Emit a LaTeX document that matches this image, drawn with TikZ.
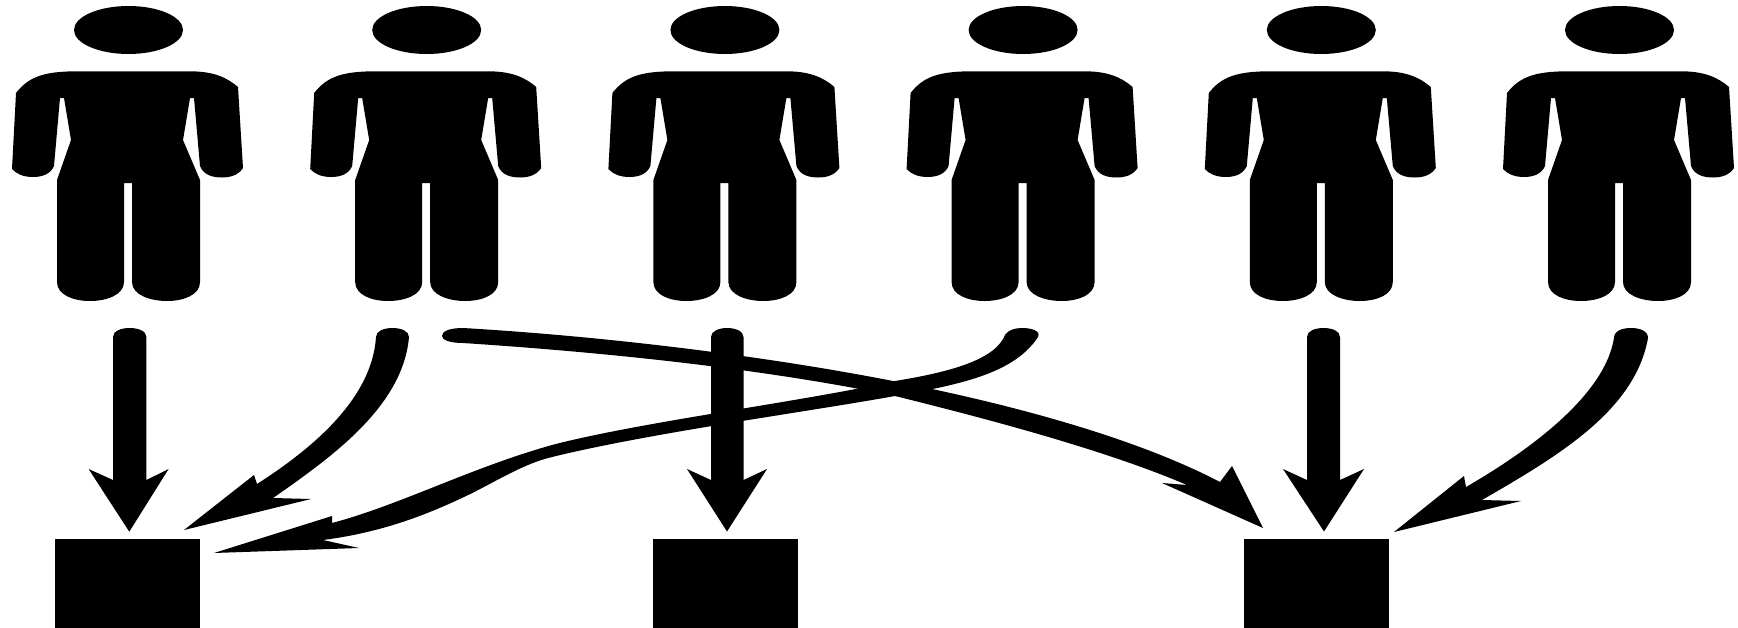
\documentclass[tikz,border=0pt]{standalone}
\tikzset{
  ink/.style={fill=black,draw=none},
  binbox/.style={rectangle,fill=black,draw=none,inner sep=0pt,minimum width=145pt,minimum height=89pt},
  person/.pic={
    \fill[ink] (0,0) ellipse [x radius=54.5,y radius=24];
    \fill[ink] (-51,41.3) -- (61.5,41.3)
      .. controls (84,41.3) and (98,47) .. (109.5,57)
      -- (114.5,138)
      .. controls (110,145) and (102,147.5) .. (93.5,147.5)
      .. controls (84,147.5) and (75,145) .. (71.5,136)
      -- (65.5,68) -- (61.5,68) -- (54.5,110) -- (71.5,150)
      -- (71.5,252)
      .. controls (71.5,265) and (55,271) .. (38.5,271)
      .. controls (22,271) and (3.5,265) .. (3.5,252)
      -- (3.5,153) -- (-4.5,153) -- (-4.5,252)
      .. controls (-4.5,265) and (-22,271) .. (-38.5,271)
      .. controls (-55,271) and (-71.5,265) .. (-71.5,252)
      -- (-71.5,150) -- (-57.5,110) -- (-64.5,68) -- (-68.5,68) -- (-74.5,136)
      .. controls (-78,144) and (-86,147) .. (-95.5,147)
      .. controls (-105,147) and (-112,144) .. (-116.5,139)
      -- (-112.5,63)
      .. controls (-100,47) and (-85,41.3) .. (-51,41.3) -- cycle;
  }
}
\begin{document}
\begin{tikzpicture}[x=1pt,y=-1pt]
\useasboundingbox (0,0) rectangle (1738,627);
% people
\pic (p1) at (128.5,30) {person};
\pic (p2) at (426.7,30) {person};
\pic (p3) at (724.9,30) {person};
\pic (p4) at (1023.1,30) {person};
\pic (p5) at (1321.3,30) {person};
\pic (p6) at (1619.5,30) {person};
% bins
\node[binbox] (b1) at (127.8,583) {};
\node[binbox] (b2) at (725.2,583) {};
\node[binbox] (b3) at (1316.2,583) {};
% connector ends
\coordinate (s1) at (129.7,328);
\coordinate (t1) at (129.3,531.7);
\coordinate (s2) at (392.5,328);
\coordinate (t2) at (184,530);
\coordinate (s3) at (463,328);
\coordinate (t3) at (1263,528);
\coordinate (s4) at (727.2,328);
\coordinate (t4) at (727,531.5);
\coordinate (s5) at (1022,328);
\coordinate (t5) at (214,553);
\coordinate (s6) at (1323.5,328);
\coordinate (t6) at (1324,531.5);
\coordinate (s7) at (1631,328);
\coordinate (t7) at (1394,532);
% straight arrows
\fill[ink] (113,337) .. controls (113,331) and (121,328) .. (s1) .. controls (138,328) and (146.4,331) .. (146.4,337)
  -- (146.4,480) -- (168.6,469) -- (t1) -- (88.6,469) -- (113,480) -- cycle;
\fill[ink] (711,337) .. controls (711,331) and (719,328) .. (s4) .. controls (735,328) and (743.5,331) .. (743.5,337)
  -- (743.5,480) -- (767,469) -- (t4) -- (687,469) -- (711,480) -- cycle;
\fill[ink] (1307,337) .. controls (1307,331) and (1315,328) .. (s6) .. controls (1332,328) and (1340,331) .. (1340,337)
  -- (1340,480) -- (1364,469) -- (t6) -- (1283,469) -- (1307,480) -- cycle;
% curved arrow 2 -> bin 1
\fill[ink] (376,337) .. controls (376,331) and (384,328) .. (s2) .. controls (401,328) and (409,331) .. (409,337)
  .. controls (403,405) and (335,455) .. (273,498)
  -- (311,499) -- (t2) -- (254,475) -- (257,484)
  .. controls (310,450) and (372,400) .. (376,337) -- cycle;
% curved arrow 6 -> bin 3
\fill[ink] (1614,338) .. controls (1614,331) and (1622,328) .. (s7) .. controls (1640,328) and (1648,331) .. (1648,338)
  .. controls (1635,410) and (1560,455) .. (1482,500)
  -- (1521,501) -- (t7) -- (1464,476) -- (1466,487)
  .. controls (1530,450) and (1605,395) .. (1614,338) -- cycle;
% long arrow 2 -> bin 3
\fill[ink] (463,343) .. controls (450,343) and (442,340) .. (442,336) .. controls (442,331) and (450,328) .. (s3)
  .. controls (600,336) and (760,355) .. (893,381)
  .. controls (1000,402) and (1130,435) .. (1220,482)
  -- (1232,466) -- (t3) -- (1162,483) -- (1187,485)
  .. controls (1110,452) and (1000,422) .. (895,396)
  .. controls (760,368) and (600,352) .. (463,343) -- cycle;
% long arrow 4 -> bin 1
\fill[ink] (1005,335) .. controls (1008,330) and (1015,328) .. (s5) .. controls (1032,328) and (1041,331) .. (1038,337)
  .. controls (1015,372) and (965,384) .. (895,396)
  .. controls (800,413) and (650,433) .. (552,457)
  .. controls (522,464) and (492,484) .. (464,497)
  .. controls (430,513) and (385,532) .. (323,540)
  -- (359,548) -- (t5) -- (332,516) -- (332,523)
  .. controls (400,505) and (470,468) .. (552,445)
  .. controls (640,422) and (800,402) .. (895,381)
  .. controls (950,372) and (995,360) .. (1005,335) -- cycle;
\end{tikzpicture}
\end{document}
